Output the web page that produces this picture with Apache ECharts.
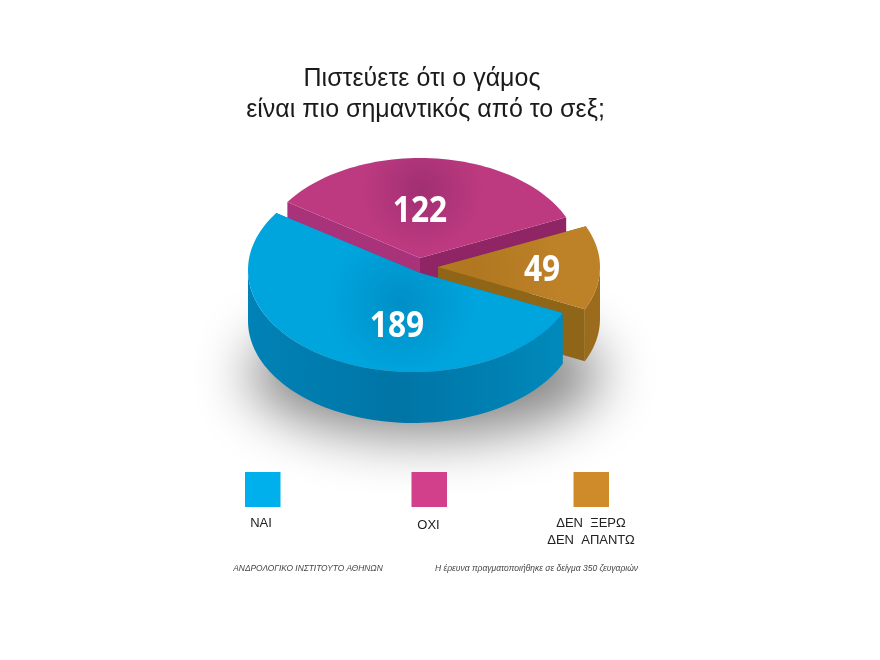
<!DOCTYPE html>
<html><head><meta charset="utf-8">
<style>html,body{margin:0;background:#fff}#c{width:880px;height:660px}</style>
<script src="https://cdn.jsdelivr.net/npm/echarts@6/dist/echarts.min.js"></script>
</head><body><div id="c"></div>
<script>
const categories = ['ΝΑΙ', 'ΟΧΙ', 'ΔΕΝ  ΞΕΡΩ\nΔΕΝ  ΑΠΑΝΤΩ'];
const values = [189, 122, 49];
const titleLines = ['Πιστεύετε ότι ο γάμος', 'είναι πιο σημαντικός από το σεξ;'];
const sourceNote = 'ΑΝΔΡΟΛΟΓΙΚΟ ΙΝΣΤΙΤΟΥΤΟ ΑΘΗΝΩΝ';
const surveyNote = 'Η έρευνα πραγματοποιήθηκε σε δείγμα 350 ζευγαριών';

const total = values.reduce((a, b) => a + b, 0);
const START = 25; // degrees, clockwise on screen
const R = Math.PI / 180;
const G = echarts.graphic;
const geo = [
  {cx:413,cy:270,rx:165,ry:102,d:51,z:30,ap:[420,273],top:'#00A5DE',mid:'#008FC6',mp:[401,303],mr:75,
   wall:[[0,'#0082B6'],[.45,'#0075A6'],[.8,'#0082B4'],[1,'#008DBE']],cut:'#0083B5',lab:[397,327]},
  {cx:420,cy:258,rx:160,ry:100,d:42,z:10,top:'#BE3A80',mid:'#A02F72',mp:[422,190],mr:62,
   wall:[[0,'#8E2566'],[1,'#A8337A']],cut:'#A8337A',cut2:'#8F2565',lab:[420,212]},
  {cx:438,cy:267,rx:162,ry:100,d:52,z:20,top:'#BD8128',mid:'#B07720',mp:[470,270],mr:90,
   wall:[[0,'#93661A'],[1,'#9C6C1C']],cut:'#8F6518',lab:[542,271]}
];
const legendX = [262.5, 429, 591];
const legendColors = ['#00B0EC', '#D2408C', '#CF8B2A'];

function pt(g, t) { return [g.cx + g.rx * Math.cos(t * R), g.cy + g.ry * Math.sin(t * R)]; }
function arc(g, a, b) { const o = []; const n = Math.ceil(Math.abs(b - a) / 2); for (let i = 0; i <= n; i++) o.push(pt(g, a + (b - a) * i / n)); return o; }
function down(p, d) { return [p[0], p[1] + d]; }

let acc = START;
const spans = values.map(v => { const a = acc; acc += v / total * 360; return [a, acc]; });

function renderItem(params, api) {
  const i = params.dataIndex, g = geo[i], [a, b] = spans[i];
  const A = pt(g, a), B = pt(g, b), C = g.ap || [g.cx, g.cy];
  const kids = [];
  const poly = (points, fill, z2) => kids.push({type:'polygon', z2, shape:{points}, style:{fill}});
  poly([C, A, down(A, g.d), down(C, g.d)], g.cut, g.z);
  poly([C, B, down(B, g.d), down(C, g.d)], g.cut2 || g.cut, g.z);
  // outer wall: only the downward-facing part of the rim
  const ranges = [];
  for (let k = 0; k <= 1; k++) {
    const lo = Math.max(a, k * 360), hi = Math.min(b, 180 + k * 360);
    if (hi > lo) ranges.push([lo, hi]);
  }
  ranges.forEach(([lo, hi]) => {
    const top = arc(g, lo, hi), bottom = top.map(p => down(p, g.d)).reverse();
    kids.push({type:'polygon', z2:g.z + 1, shape:{points: top.concat(bottom)},
      style:{fill:new G.LinearGradient(g.cx - g.rx, 0, g.cx + g.rx, 0, g.wall.map(s => ({offset:s[0], color:s[1]})), true)}});
  });
  poly([C].concat(arc(g, a, b)), new G.RadialGradient(g.mp[0], g.mp[1], g.mr,
    [{offset:0, color:g.mid}, {offset:1, color:g.top}], true), g.z + 2);
  kids.push({type:'text', z2:g.z + 3, x:g.lab[0], y:g.lab[1], scaleX:.88, style:{text:String(api.value(0)), fill:'#fff',
    font:'700 36px "Open Sans"', textAlign:'center', textVerticalAlign:'middle'}});
  return {type:'group', children:kids};
}

const txt = (x, y, text, font, fill, lh) => ({type:'text', x, y, style:{text, font, fill:fill || '#222', textAlign:'center', textVerticalAlign:'middle', lineHeight:lh || 17}});
const OFF = 1500;
const graphics = [
  {type:'ellipse', z:0, shape:{cx:425 - OFF, cy:374, rx:176, ry:62}, style:{fill:'#000', shadowColor:'rgba(0,0,0,.48)', shadowBlur:55, shadowOffsetX:OFF}},
  txt(422, 79, titleLines[0], '25px "Liberation Sans"', '#1a1a1a'),
  txt(425.5, 110, titleLines[1], '25px "Liberation Sans"', '#1a1a1a'),
  txt(308, 569, sourceNote, 'italic 8.4px "Liberation Sans"', '#444'),
  txt(536.5, 569, surveyNote, 'italic 8.5px "Liberation Sans"', '#444')
];
categories.forEach((c, i) => {
  graphics.push({type:'rect', shape:{x:legendX[i] - 17.5, y:472, width:35.5, height:35}, style:{fill:legendColors[i]}});
});
[[261,523.5],[428.5,525],[591,531.5]].forEach((p, i) => graphics.push(txt(p[0], p[1], categories[i], '13px "Liberation Sans"')));

const chart = echarts.init(document.getElementById('c'), null, {renderer:'canvas'});
chart.setOption({
  animation:false, backgroundColor:'#fff',
  graphic:{elements:graphics},
  series:[{type:'custom', coordinateSystem:'none', renderItem, silent:true, z:5,
    data:values.map((v, i) => ({name:categories[i], value:[v]}))}]
});
</script></body></html>
